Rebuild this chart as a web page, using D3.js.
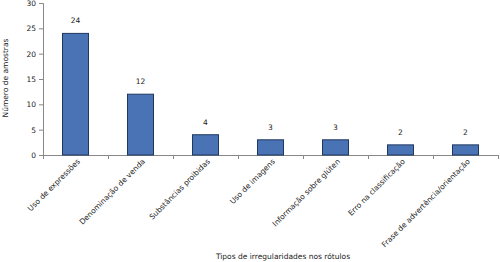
<!DOCTYPE html>
<html>
<head>
<meta charset="utf-8">
<script src="https://cdn.jsdelivr.net/npm/d3@7"></script>
<style>
  body { margin: 0; background: #fff; }
  svg text { font-family: "DejaVu Sans", sans-serif; fill: #222; }
</style>
</head>
<body>
<svg id="chart" width="500" height="262"></svg>
<script>
// Dados do gráfico
var categorias = ["Uso de expressões", "Denominação de venda", "Substâncias proibidas",
    "Uso de imagens", "Informação sobre glúten", "Erro na classificação",
    "Frase de advertência/orientação"];
var amostras = [24, 12, 4, 3, 3, 2, 2];
var yTicks = [0, 5, 10, 15, 20, 25, 30];

var svg = d3.select("#chart");
var margemEsq = 43, margemDir = 498, margemSup = 3, margemInf = 155;

var x = d3.scaleBand().domain(categorias).range([margemEsq, margemDir])
    .paddingInner(0.6).paddingOuter(0.3);
var y = d3.scaleLinear().domain([0, 30]).range([margemInf, margemSup]);

// Eixo Y
var yAxis = svg.append("g").attr("transform", "translate(" + margemEsq + ",0)")
    .call(d3.axisLeft(y).tickValues(yTicks).tickSize(4).tickPadding(3));
yAxis.selectAll("text").style("font-size", "7.5px");
yAxis.selectAll("line, path").attr("stroke", "#888");

// Eixo X (marcas nos limites das categorias)
svg.append("line").attr("x1", margemEsq).attr("x2", margemDir)
    .attr("y1", margemInf + 0.5).attr("y2", margemInf + 0.5).attr("stroke", "#888");
var limites = d3.range(categorias.length + 1).map(function (i) { return margemEsq + i * x.step(); });
svg.selectAll(".xtick").data(limites).enter().append("line")
    .attr("x1", function (d) { return d + 0.5; }).attr("x2", function (d) { return d + 0.5; })
    .attr("y1", margemInf).attr("y2", margemInf + 4).attr("stroke", "#888");

// Barras
svg.selectAll(".bar").data(amostras).enter().append("rect")
    .attr("x", function (d, i) { return x(categorias[i]); })
    .attr("y", function (d) { return y(d); })
    .attr("width", x.bandwidth())
    .attr("height", function (d) { return margemInf - y(d); })
    .attr("fill", "#4a73b6").attr("stroke", "#1f3860").attr("stroke-width", 1);

// Valores sobre as barras
svg.selectAll(".val").data(amostras).enter().append("text")
    .attr("x", function (d, i) { return x(categorias[i]) + x.bandwidth() / 2; })
    .attr("y", function (d) { return y(d) - 10; })
    .attr("text-anchor", "middle").style("font-size", "7.5px")
    .text(function (d) { return d; });

// Rótulos das categorias
svg.selectAll(".cat").data(categorias).enter().append("text")
    .attr("transform", function (d) {
        return "translate(" + (x(d) + x.bandwidth() / 2 + 5) + "," + (margemInf + 7) + ") rotate(-45)";
    })
    .attr("text-anchor", "end").style("font-size", "7.5px")
    .text(function (d) { return d; });

// Títulos dos eixos
svg.append("text").attr("transform", "translate(8,78) rotate(-90)")
    .attr("text-anchor", "middle").style("font-size", "7.5px").text("Número de amostras");
svg.append("text").attr("x", 283).attr("y", 259)
    .attr("text-anchor", "middle").style("font-size", "7.5px")
    .text("Tipos de irregularidades nos rótulos");
</script>
</body>
</html>
